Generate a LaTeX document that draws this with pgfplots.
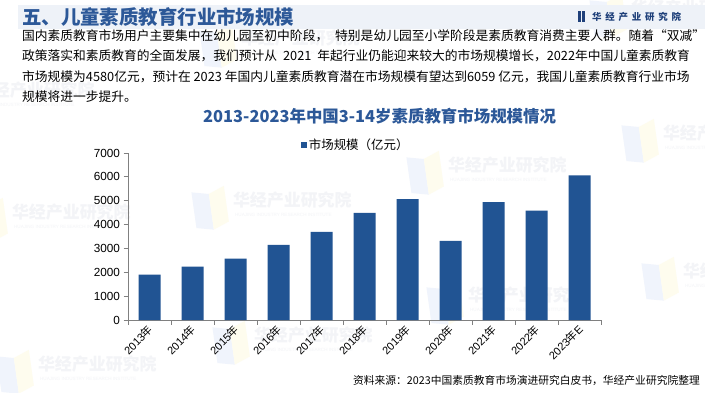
\documentclass[border=0pt]{standalone}
\usepackage{fontspec}
\setmainfont{Noto Sans CJK SC}
\newfontfamily\arial{Liberation Sans}
\usepackage{pgfplots}
\pgfplotsset{compat=1.18}
\definecolor{barblue}{RGB}{33,84,147}
\definecolor{ttlblue}{RGB}{44,88,152}
\definecolor{hdrbg}{RGB}{238,242,248}
\definecolor{axgray}{RGB}{128,128,128}
\definecolor{logoblue}{RGB}{31,64,122}
\definecolor{wmb}{RGB}{240,244,252}
\definecolor{wmy}{RGB}{254,252,238}
\definecolor{wmt}{RGB}{243,244,247}
\newcommand\wm[2]{%
  \begin{scope}[shift={(#1,#2)},rotate=8]
    \fill[wmb] (0,4) -- (17,0) -- (17,36) -- (0,40) -- cycle;
    \fill[wmy] (17,0) -- (33,6) -- (33,42) -- (17,36) -- cycle;
    \node[anchor=west,inner sep=0,text=wmt,font=\bfseries\fontsize{17}{17}\selectfont] at (40,27) {华经产业研究院};
    \node[anchor=west,inner sep=0,text=wmt,font=\arial\fontsize{4.6}{5}\selectfont] at (40,12) {HUAJING INDUSTRY RESEARCH INSTITUTE};
  \end{scope}}
\newcommand\yr[1]{#1{\normalfont 年}}
\begin{document}
\begin{tikzpicture}[x=1bp,y=1bp]
\path[use as bounding box, fill=white] (0,0) rectangle (705,392);
% watermarks
\wm{197}{160}
\wm{412}{195}
\wm{627}{227}
\wm{-24}{148}
\wm{2}{-4}
\wm{432}{65}
\wm{647}{89}
\wm{218}{25}
\wm{-60}{270}
\wm{205}{322}
\wm{595}{352}
% header
\fill[hdrbg] (18,363) rectangle (705,387);
\node[anchor=west,inner sep=0,text=ttlblue,font=\bfseries\fontsize{19.5}{19.5}\selectfont] at (22,375) {五、儿童素质教育行业市场规模};
\fill[logoblue] (578,370) rectangle (580.5,381);
\fill[logoblue] (582,370) rectangle (584.5,381);
\node[anchor=west,inner sep=0,text=logoblue,font=\bfseries\fontsize{9.5}{9.5}\selectfont\addfontfeature{LetterSpace=40}] at (592,375.5) {华经产业研究院};
% paragraph
\begin{scope}[every node/.style={anchor=west,inner sep=0,font=\fontsize{12.8}{13}\selectfont}]
\node at (22,356) {国内素质教育市场用户主要集中在幼儿园至初中阶段，\hspace{7bp}特别是幼儿园至小学阶段是素质教育消费主要人群。随着“双减”};
\node at (22,336) {政策落实和素质教育的全面发展，我们预计从\hspace{3bp} 2021\hspace{3bp} 年起行业仍能迎来较大的市场规模增长，2022年中国儿童素质教育};
\node at (22,315) {市场规模为4580亿元，预计在 2023 年国内儿童素质教育潜在市场规模有望达到6059 亿元，我国儿童素质教育行业市场};
\node at (22,295) {规模将进一步提升。};
\end{scope}
% chart title
\node[anchor=west,inner sep=0,text=ttlblue,font=\bfseries\fontsize{16.5}{16.5}\selectfont] at (203,276) {2013-2023年中国3-14岁素质教育市场规模情况};
% source
\node[anchor=east,inner sep=0,font=\fontsize{10.8}{11}\selectfont] at (700,11) {资料来源：2023中国素质教育市场演进研究白皮书，华经产业研究院整理};
\begin{axis}[
  at={(128bp,72bp)}, anchor=south west,
  width=473bp, height=167bp, scale only axis,
  xmin=-0.5, xmax=10.5, ymin=0, ymax=7000,
  axis x line*=bottom, axis y line*=left,
  axis line style={draw=axgray, line width=0.8pt},
  tick align=outside,
  xtick={0,...,10},
  xticklabels={\yr{2013},\yr{2014},\yr{2015},\yr{2016},\yr{2017},\yr{2018},\yr{2019},\yr{2020},\yr{2021},\yr{2022},\yr{2023}E},
  major x tick style={draw=none},
  minor xtick={-0.5,0.5,...,10.5},
  minor x tick style={draw=axgray, line width=0.8pt},
  minor tick length=4.5bp,
  major tick length=4.5bp,
  ytick={0,1000,...,7000},
  y tick style={draw=axgray, line width=0.8pt},
  x tick label style={rotate=45, anchor=east, font=\arial\fontsize{11}{11}\selectfont, inner sep=1pt, yshift=-3bp},
  y tick label style={font=\arial\fontsize{11.8}{12}\selectfont},
  /pgf/number format/assume math mode=true,
  /pgf/number format/1000 sep={},
  ybar, bar width=22bp,
  legend style={at={(0.365,1.05)}, anchor=west, draw=none, fill=none, inner sep=0pt,
    font=\fontsize{12.5}{12.5}\selectfont},
  legend image code/.code={\fill[barblue] (0bp,-3bp) rectangle (6bp,3bp);},
]
\addplot[fill=barblue, draw=none] coordinates {
 (0,1903) (1,2236) (2,2569) (3,3153) (4,3694) (5,4486) (6,5069) (7,3319) (8,4944) (9,4580) (10,6059)};
\addlegendentry{市场规模（亿元）}
\end{axis}
\end{tikzpicture}
\end{document}
